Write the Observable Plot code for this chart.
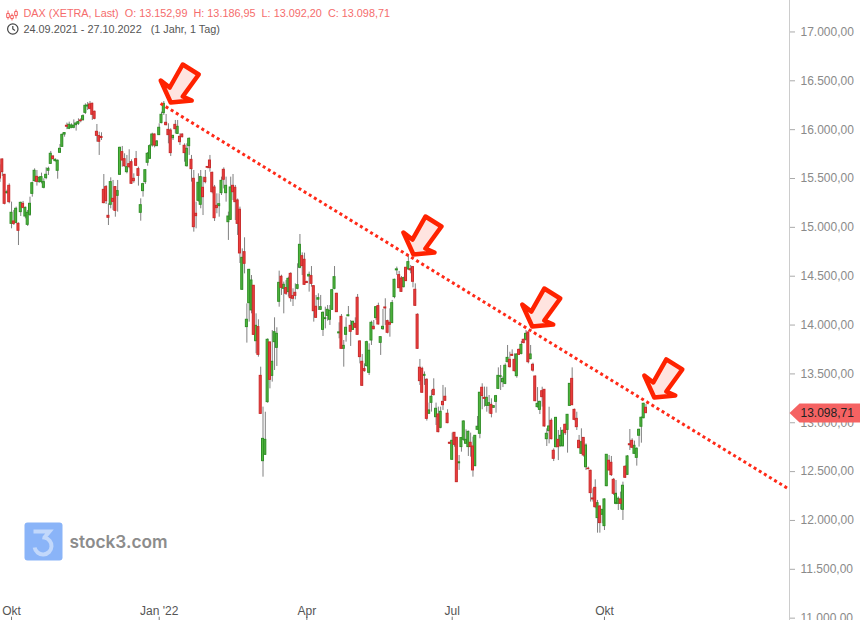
<!DOCTYPE html>
<html><head><meta charset="utf-8">
<script src="https://cdn.jsdelivr.net/npm/d3@7"></script>
<script src="https://cdn.jsdelivr.net/npm/@observablehq/plot@0.6"></script>
<style>html,body{margin:0;padding:0;background:#fff}svg{display:block}</style>
</head><body><div id="chart"></div>
<script>
const opens = [15560,15695,15538,15350,15425,15036,15060,15046,15036,15156,
15241,15111,15026,15128,15343,15473,15517,15463,15463,15405,
15504,15579,15650,15725,15678,15579,15763,15824,15950,16040,
16009,16019,16019,16046,16060,16094,16097,16172,16237,16258,
16265,16183,15978,15934,15925,15384,15412,15118,15231,15292,
15412,15323,15538,15770,15698,15565,15647,15667,15497,15698,
15596,15149,15371,15463,15661,15702,15838,15950,15831,15944,
16067,16169,16070,15998,15991,15913,16049,15957,15927,15950,
15835,15626,15831,15691,15497,15139,15272,15231,15405,15507,
15618,15684,15558,15408,15220,15217,15350,15589,15350,15053,
15077,15425,15405,15275,15180,14361,14746,13979,14224,14150,
14402,13835,13979,13480,12607,12672,13211,13822,13480,13825,
13767,14238,14494,14371,14378,14337,14524,14296,14330,14371,
14586,14705,14668,14440,14497,14501,14398,14187,14260,14156,
13951,14061,14094,14054,14156,14371,14320,13915,14084,13757,
13900,14090,13992,13951,14013,14279,13832,13624,13549,13580,
13511,13842,13982,14071,14194,13818,13958,14180,14040,14023,
14020,14286,14560,14511,14477,14388,14586,14569,14572,14593,
14361,14105,13563,13552,13480,13440,13092,13204,13337,13057,
13085,12948,13214,13266,13092,12795,12621,12897,12846,12585,
12751,12825,12785,12751,12795,12757,12556,12928,12887,13358,
13255,13173,13173,13183,13153,13214,13347,13470,13415,13398,
13620,13644,13695,13644,13477,13746,13705,13849,13849,13924,
13651,13593,13473,13160,13132,13323,13337,12832,12914,13020,
12713,12750,12825,12760,12760,12979,12927,13173,13449,13132,
13040,12815,12682,12845,12545,12530,12508,12225,12334,12024,
12143,12058,11942,12351,12611,12590,12416,12170,12170,12215,
12109,12549,12467,12780,12815,12682,12641,12867,12959,13047,13152.99];
const highs = [15640,15700,15540,15380,15445,15258,15173,15207,15046,15258,
15265,15207,15173,15309,15463,15599,15582,15521,15555,15497,
15609,15616,15777,15736,15701,15691,15848,15957,15968,16067,
16077,16060,16100,16077,16111,16111,16152,16264,16278,16288,
16271,16190,16053,15974,15968,15541,15428,15241,15507,15480,
15418,15480,15821,15828,15753,15736,15794,15691,15548,15777,
15616,15292,15452,15589,15766,15848,15964,15957,15889,16060,
16179,16288,16155,16060,16009,15940,16094,16094,15957,15957,
15855,15855,15916,15736,15582,15258,15548,15582,15514,15582,
15620,15736,15565,15429,15343,15343,15514,15609,15514,15156,
15514,15541,15429,15290,15207,14780,14893,14217,14570,14507,
14405,14115,14054,13569,13160,13108,13859,13825,13944,14074,
13972,14552,14510,14440,14456,14490,14535,14371,14422,14627,
14927,14739,14736,14450,14542,14599,14402,14303,14320,14303,
14135,14183,14200,14200,14365,14599,14325,14023,14108,13842,
14074,14190,14047,14040,14074,14313,13840,13699,13603,13835,
13808,14040,14047,14190,14224,13880,14160,14269,14050,14166,
14252,14470,14593,14549,14497,14490,14590,14712,14610,14600,
14422,14115,13648,13569,13520,13450,13201,13330,13450,13201,
13160,13160,13382,13358,13133,12800,12894,12900,12850,12665,
12850,13020,12928,12915,12894,12853,12870,13064,13310,13399,
13365,13364,13279,13245,13175,13280,13562,13586,13470,13603,
13791,13722,13746,13705,13705,13755,13832,13855,13944,13930,
13791,13610,13480,13360,13220,13364,13340,12938,13159,13040,
12733,13055,12921,12950,12925,12985,13085,13400,13562,13140,
13108,12870,12938,12846,12784,12546,12515,12324,12416,12205,
12150,12075,12222,12360,12665,12655,12430,12409,12240,12290,
12392,12560,12665,12931,12836,12812,12745,12935,13060,13200,13186.95];
const lows = [15460,15520,15230,15340,15241,14985,15019,15036,14814,15111,
15190,15087,15009,15111,15309,15463,15422,15452,15445,15394,
15487,15531,15644,15691,15667,15493,15760,15821,15923,16000,
16000,16009,16009,15985,16043,16070,16087,16155,16196,16203,
16094,16101,15872,15736,15889,15241,15234,15019,15190,15173,
15104,15156,15531,15616,15616,15548,15599,15439,15452,15623,
15422,15063,15309,15439,15626,15695,15821,15814,15828,15940,
16060,16145,16039,15855,15725,15889,15957,15950,15838,15916,
15667,15616,15736,15463,14951,14985,15258,15190,15121,15446,
15600,15565,15343,15060,15139,15104,15326,15394,15258,14866,
15070,15275,15070,14917,14630,14354,14524,13815,14030,14115,
13893,13706,13671,13085,12443,12665,13200,13347,13416,13535,
13576,14183,14303,14115,14303,14286,14234,14190,14258,14361,
14576,14507,14405,14425,14337,14388,14030,14071,14149,14149,
13883,13961,14040,13996,14149,14361,14129,13859,13753,13569,
13825,14085,13781,13945,13965,13895,13603,13375,13518,13569,
13484,13791,13950,14047,14000,13689,13945,13996,13910,13876,
14015,14269,14508,14371,14335,14380,14445,14559,14525,14381,
14190,13750,13382,13304,13382,13017,13085,13109,13275,12972,
12897,12938,13126,13220,12990,12780,12615,12750,12388,12512,
12699,12810,12780,12655,12648,12443,12550,12920,12836,13133,
13160,13108,13091,13050,13148,13098,13340,13330,13360,13390,
13615,13560,13680,13520,13456,13690,13695,13810,13835,13603,
13645,13518,13215,13150,13084,13160,12955,12757,12784,12825,
12603,12745,12613,12750,12750,12870,12689,13170,13175,13020,
12921,12735,12678,12648,12511,12518,12188,12188,12120,11870,
11870,11966,11897,12345,12505,12450,12255,12160,12102,12109,
12000,12430,12460,12716,12735,12675,12556,12751,12791,13040,13092.20];
const closes = [15500,15565,15241,15360,15258,15149,15036,15190,14965,15251,
15200,15200,15149,15241,15452,15579,15466,15507,15514,15463,
15538,15599,15753,15698,15691,15681,15804,15947,15965,16030,
16050,16043,16040,16063,16077,16087,16138,16244,16247,16213,
16152,16111,15937,15876,15915,15248,15268,15098,15463,15261,
15169,15371,15814,15684,15626,15616,15616,15446,15473,15630,
15527,15227,15442,15585,15753,15831,15950,15838,15879,16019,
16152,16264,16046,15944,15760,15937,16005,16029,15872,15923,
15760,15804,15906,15596,15002,15115,15456,15514,15309,15463,
15610,15606,15360,15094,15197,15237,15476,15487,15425,15111,
15408,15360,15258,15036,14733,14688,14627,14054,14565,14456,
13900,13992,13695,13091,12835,12825,13849,13439,13624,13927,
13910,14432,14381,14412,14320,14473,14275,14269,14299,14408,
14821,14603,14412,14430,14514,14422,14142,14074,14275,14183,
14125,14070,14156,14146,14357,14490,14132,13925,13757,13787,
13972,14100,13931,14033,13972,13900,13672,13378,13528,13825,
13737,14023,13958,14183,14006,13876,13982,14170,13921,14003,
14224,14463,14570,14378,14340,14480,14450,14644,14560,14443,
14197,13757,13426,13307,13490,13040,13126,13266,13283,13143,
12904,13112,13180,13225,12996,12785,12815,12774,12392,12595,
12843,13013,12825,12907,12751,12512,12866,12959,13307,13273,
13245,13255,13200,13091,13170,13272,13480,13476,13449,13583,
13664,13569,13685,13528,13699,13695,13797,13815,13910,13620,
13699,13534,13221,13194,13214,13262,12962,12887,12962,12832,
12631,13050,12750,12866,12917,12893,13081,13398,13180,13030,
12955,12740,12801,12665,12767,12525,12280,12215,12136,12177,
11973,12109,12215,12672,12512,12464,12273,12273,12222,12170,
12355,12437,12655,12770,12744,12764,12733,12928,13051,13194,13098.71];

const monthLabels = ["Okt","Jan '22","Apr","Jul","Okt"];
const monthIndex = [5,69,133,196,262];
const yTicks = [11000,11500,12000,12500,13000,13500,14000,14500,15000,15500,16000,16500,17000];
const trendIndex = [69.6,342.2];
const trendPrice = [16268,12317];
const arrowIndex = [74,179.2,230.7,283.6];
const arrowPrice = [16278,14722,13985,13259];
const lastPrice = 13098.71;
const xDomain = [0.217,342.2];
const yDomain = [10976,17322];
const titleLine = "DAX (XETRA, Last)\u00a0\u00a0O: 13.152,99\u00a0\u00a0H: 13.186,95\u00a0\u00a0L: 13.092,20\u00a0\u00a0C: 13.098,71";
const rangeLine = "24.09.2021 - 27.10.2022\u00a0\u00a0\u00a0(1 Jahr, 1 Tag)";

const candles = opens.map((o,i)=>({i,o,h:highs[i],l:lows[i],c:closes[i]}));
const up = candles.filter(d=>d.c>=d.o), down = candles.filter(d=>d.c<d.o);
const de = d3.formatLocale({decimal:",",thousands:".",grouping:[3],currency:["",""]}).format(",.2f");
const poly = pts => ({draw(c){pts.forEach((p,k)=>k?c.lineTo(p[0],p[1]):c.moveTo(p[0],p[1]));c.closePath();}});
const arrowSym = poly([[12,-38],[28,-28],[12,-6],[21,-2],[0,0],[-10,-22],[-1,-15]]);
const tagSym = poly([[0,0],[10,-9.5],[72,-9.5],[72,9.5],[10,9.5]]);
const logoSym = {draw(c){const r=3,a=-19,b=19;c.moveTo(a+r,a);c.arcTo(b,a,b,b,r);c.arcTo(b,b,a,b,r);c.arcTo(a,b,a,a,r);c.arcTo(a,a,b,a,r);c.closePath();}};
const logo3Sym = {draw(c){c.moveTo(-10,-10);c.lineTo(6,-10);c.lineTo(1,-4);c.arc(-0.5,4.5,8.5,-80*Math.PI/180,170*Math.PI/180,false);}};
const candleIcon = {draw(c){
  for(const [x,t,b,h,l] of [[-4,-1,3,-4,5],[0,1,4,-1,6],[4,-3,1,-5,4]]){
    c.moveTo(x,h);c.lineTo(x,t);c.moveTo(x-1.3,t);c.lineTo(x+1.3,t);c.lineTo(x+1.3,b);c.lineTo(x-1.3,b);c.closePath();c.moveTo(x,b);c.lineTo(x,l);
  }}};
const clockIcon = {draw(c){c.moveTo(5.2,0);c.arc(0,0,5.2,0,2*Math.PI);c.moveTo(0,-3);c.lineTo(0,0);c.lineTo(2.2,1.4);}};

const chart = Plot.plot({
  width:860,height:620,marginLeft:0,marginRight:71,marginTop:0,marginBottom:0,
  style:{fontFamily:"'Liberation Sans',Arial,sans-serif",background:"#fff"},
  x:{domain:xDomain,range:[0,789],axis:null},
  y:{domain:yDomain,range:[620,0],axis:null},
  marks:[
    Plot.axisY({anchor:"right",ticks:yTicks,tickFormat:de,tickSize:5,tickPadding:6,fontSize:12,stroke:"#aaa",fill:"#8a8a8a",label:null}),
    Plot.ruleX([xDomain[1]],{stroke:"#ccc"}),
    Plot.ruleX(monthIndex,{y1:yDomain[0],y2:11010,stroke:"#777"}),
    Plot.text(monthLabels,{x:(d,i)=>monthIndex[i],y:11075,text:d=>d,fontSize:12,fill:"#555"}),
    Plot.dot([0],{frameAnchor:"bottom-left",dx:43,dy:-79,symbol:logoSym,r:10,fill:"#8ab4f8",stroke:"none"}),
    Plot.dot([0],{frameAnchor:"bottom-left",dx:43,dy:-79,symbol:logo3Sym,r:10,fill:"none",stroke:"#c2d8fb",strokeWidth:4}),
    Plot.text(["stock3.com"],{frameAnchor:"bottom-left",dx:69,dy:-78,textAnchor:"start",lineAnchor:"middle",fontSize:17.3,fontWeight:600,fontFamily:"Inter",fill:"#8c8c8c"}),
    Plot.ruleX(candles,{x:"i",y1:"l",y2:"h",stroke:"#808080",strokeWidth:1}),
    Plot.rect(up,{x1:d=>d.i-0.433,x2:d=>d.i+0.433,y1:"o",y2:"c",fill:"#52b840",stroke:"#2f8f26",strokeWidth:1}),
    Plot.rect(down,{x1:d=>d.i-0.433,x2:d=>d.i+0.433,y1:"o",y2:"c",fill:"#f04040",stroke:"#c92a2a",strokeWidth:1}),
    Plot.line(trendIndex,{x:d=>d,y:(d,i)=>trendPrice[i],stroke:"#ff2a18",strokeWidth:3,strokeDasharray:"3 3",strokeLinecap:"butt",strokeLinejoin:"miter"}),
    Plot.dot(arrowIndex,{x:d=>d,y:(d,i)=>arrowPrice[i],symbol:arrowSym,r:10,fill:"#ffe4e0",stroke:"#ff2200",strokeWidth:4.5,strokeLinejoin:"round"}),
    Plot.dot([lastPrice],{x:()=>xDomain[1],y:d=>d,symbol:tagSym,r:10,fill:"#f56262",stroke:"none"}),
    Plot.text([lastPrice],{x:()=>xDomain[1],y:d=>d,text:de,dx:11,textAnchor:"start",fontSize:12,fill:"#222"}),
    Plot.dot([0],{frameAnchor:"top-left",dx:11.5,dy:14,symbol:candleIcon,r:10,fill:"none",stroke:"#f56262",strokeWidth:1}),
    Plot.text([titleLine],{frameAnchor:"top-left",dx:23,dy:13,textAnchor:"start",lineAnchor:"middle",fontSize:10.85,fill:"#f56c6c"}),
    Plot.dot([0],{frameAnchor:"top-left",dx:12.3,dy:28.5,symbol:clockIcon,r:10,fill:"none",stroke:"#444",strokeWidth:1.2}),
    Plot.text([rangeLine],{frameAnchor:"top-left",dx:23,dy:29,textAnchor:"start",lineAnchor:"middle",fontSize:10.85,fill:"#555"})
  ]
});
document.getElementById("chart").append(chart);
</script></body></html>
